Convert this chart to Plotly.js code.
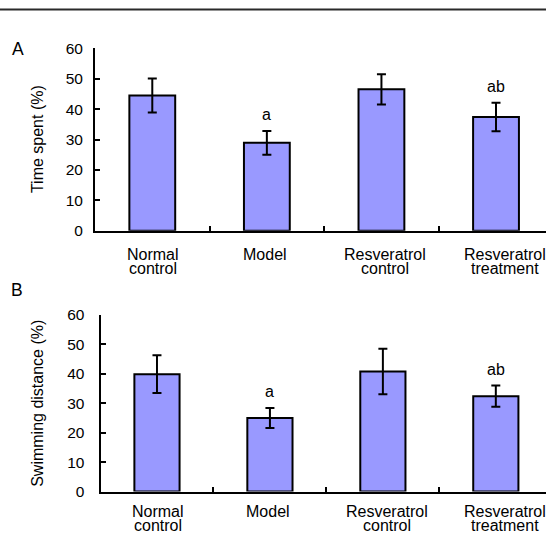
<!DOCTYPE html>
<html>
<head>
<meta charset="utf-8">
<script src="https://cdn.plot.ly/plotly-3.0.1.min.js"></script>
<style>
html, body { margin: 0; padding: 0; overflow: hidden; width: 546px; height: 533px; background: #fff; }
#chart { width: 560px; height: 533px; }
</style>
</head>
<body>
<div id="chart"></div>
<script>
// ---- data ----
const categories = ['Normal\ncontrol', 'Model', 'Resveratrol\ncontrol', 'Resveratrol\ntreatment'];
const timeSpent = [44.5, 28.9, 46.5, 37.4];
const timeSpentErr = [5.6, 3.9, 5.0, 4.7];
const swimDist = [39.9, 25.0, 40.8, 32.4];
const swimDistErr = [6.4, 3.4, 7.7, 3.6];
const sigA = ['', 'a', '', 'ab'];
const sigB = ['', 'a', '', 'ab'];
const yTicks = [0, 10, 20, 30, 40, 50, 60];
const panelLetters = ['A', 'B'];
const yTitles = ['Time spent (%)', 'Swimming distance (%)'];

// ---- layout constants ----
const W = 560, H = 533;
const FONT = 'Liberation Sans, Arial, Helvetica, sans-serif';
const barColor = '#9999FF';
const labelShift = [1, -2, 4, 9];

function px2x(p) { return p / W; }
function px2y(p) { return 1 - p / H; }

const panels = [
  { x: [95, 553.3], y: [48.3, 230.7], standoff: 7, firstOff: 23.5, letter: [18, 49.5] },
  { x: [100.5, 552.3], y: [315, 491.5], standoff: 11, firstOff: 19.5, letter: [16.5, 289.5] }
];
const values = [timeSpent, swimDist];
const errors = [timeSpentErr, swimDistErr];
const sigs = [sigA, sigB];

const data = [];
const layout = {
  width: W, height: H,
  margin: { l: 0, r: 0, t: 0, b: 0 },
  paper_bgcolor: '#fff', plot_bgcolor: '#fff',
  showlegend: false,
  font: { family: FONT, color: '#000', size: 16 },
  annotations: [],
  shapes: [{
    type: 'line', xref: 'paper', yref: 'paper',
    x0: 0, x1: 1, y0: px2y(9.5), y1: px2y(9.5),
    line: { color: '#2a2a2a', width: 2 }
  }]
};

panels.forEach((p, k) => {
  const xa = k === 0 ? 'x' : 'x2';
  const ya = k === 0 ? 'y' : 'y2';
  const xKey = k === 0 ? 'xaxis' : 'xaxis2';
  const yKey = k === 0 ? 'yaxis' : 'yaxis2';
  data.push({
    type: 'bar', x: categories, y: values[k], xaxis: xa, yaxis: ya,
    width: 0.4,
    marker: { color: barColor, line: { color: '#000', width: 2 } },
    error_y: { type: 'data', array: errors[k], visible: true, color: '#000', thickness: 2, width: 4.5 },
    hoverinfo: 'none'
  });
  layout[xKey] = {
    type: 'category', domain: [px2x(p.x[0]), px2x(p.x[1])], anchor: ya,
    range: [-0.5, 3.5], showline: true, linecolor: '#000', linewidth: 2,
    ticks: 'inside', tickson: 'boundaries', ticklen: 5, tickwidth: 2, tickcolor: '#000',
    showticklabels: false, showgrid: false, zeroline: false, fixedrange: true
  };
  layout[yKey] = {
    domain: [px2y(p.y[1]), px2y(p.y[0])], anchor: xa,
    range: [0, 60], tickmode: 'array', tickvals: yTicks, ticktext: yTicks.map(String),
    showline: true, linecolor: '#000', linewidth: 2,
    ticks: 'inside', ticklen: 5, tickwidth: 2, tickcolor: '#000',
    ticklabelstandoff: p.standoff,
    tickfont: { family: FONT, size: 15.5, color: '#000' },
    showgrid: false, zeroline: false, fixedrange: true
  };
  // axis title
  layout.annotations.push({
    xref: 'paper', yref: 'paper', x: px2x(37.6), y: px2y((p.y[0] + p.y[1]) / 2),
    text: yTitles[k], textangle: -90, showarrow: false,
    xanchor: 'center', yanchor: 'middle', font: { family: FONT, size: 16, color: '#000' }
  });
  // panel letter
  layout.annotations.push({
    xref: 'paper', yref: 'paper', x: px2x(p.letter[0]), y: px2y(p.letter[1]),
    text: panelLetters[k], showarrow: false, xanchor: 'center', yanchor: 'middle',
    font: { family: FONT, size: 17.5, color: '#000' }
  });
  // category labels
  categories.forEach((c, i) => {
    c.split('\n').forEach((line, j) => {
      layout.annotations.push({
        xref: xa, yref: ya, x: i, y: 0, text: line, showarrow: false,
        xanchor: 'center', yanchor: 'middle',
        yshift: -(p.firstOff + j * 14), xshift: labelShift[i],
        font: { family: FONT, size: 16, color: '#000' }
      });
    });
  });
  // significance letters
  sigs[k].forEach((s, i) => {
    if (!s) return;
    layout.annotations.push({
      xref: xa, yref: ya, x: i, y: values[k][i] + errors[k][i], text: s, showarrow: false,
      xanchor: 'center', yanchor: 'middle', yshift: 16,
      font: { family: FONT, size: 16, color: '#000' }
    });
  });
});

Plotly.newPlot('chart', data, layout, { displayModeBar: false, staticPlot: true });
</script>
</body>
</html>
